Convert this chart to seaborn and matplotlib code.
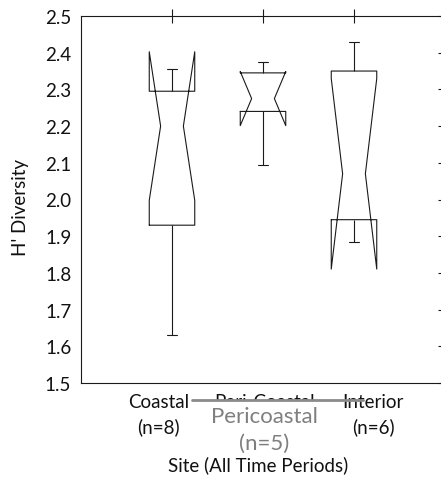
import numpy as np
import pandas as pd
import matplotlib
matplotlib.use("Agg")
import matplotlib.pyplot as plt
import seaborn as sns
from matplotlib.lines import Line2D
from matplotlib.patches import Rectangle

# ---- data ----
categories = ["Coastal", "Peri-Coastal", "Interior"]
tick_labels = ["Coastal\n(n=8)", "Peri-Coastal", "Interior\n(n=6)"]
coastal = [1.63, 1.90, 1.94, 2.17, 2.23, 2.28, 2.34, 2.355]
pericoastal = [2.095, 2.24, 2.275, 2.345, 2.375]
interior = [1.885, 1.93, 1.99, 2.15, 2.4167, 2.43]
y_ticks = [1.5, 1.6, 1.7, 1.8, 1.9, 2.0, 2.1, 2.2, 2.3, 2.4, 2.5]
y_tick_labels = ["1.5", "1.6", "1.7", "1.8", "1.9", "2.0", "2.1", "2.2", "2.3", "2.4", "2.5"]

df = pd.DataFrame({
    "site": ["Coastal"] * len(coastal) + ["Peri-Coastal"] * len(pericoastal) + ["Interior"] * len(interior),
    "value": coastal + pericoastal + interior,
})

sns.set_theme(style="white")
plt.rcParams["font.family"] = ["Lato", "DejaVu Sans"]

W, H = 441, 481
fig = plt.figure(figsize=(W / 100, H / 100), dpi=100)
ax = fig.add_axes([81 / W, 97 / H, 364 / W, 367 / H])

sns.boxplot(data=df, x="site", y="value", order=categories, ax=ax,
            width=0.5, notch=True, fill=False, color="#1a1a1a", linewidth=0.8,
            capwidths=0.1, medianprops={"linewidth": 0})

ax.set_xlim(-1, 3)
ax.set_ylim(1.5, 2.5)
ax.set_yticks(y_ticks)
ax.set_yticklabels(y_tick_labels)
# tick marks at the categories, labels slightly spread as in the reference
ax.set_xticks([0, 1, 2])
ax.set_xticklabels([])
ax.set_xticks([-0.15, 1.02, 2.21], minor=True)
ax.set_xticklabels(tick_labels, minor=True, linespacing=1.5)
ax.tick_params(axis="both", which="major", direction="inout", length=10, width=0.8,
               color="#1a1a1a", labelsize=13.5, labelcolor="#111111",
               top=True, right=True, pad=2)
ax.tick_params(axis="x", which="minor", length=0, labelsize=13.5, labelcolor="#111111",
               pad=7, top=False)
for s in ax.spines.values():
    s.set_visible(True)
    s.set_color("#1a1a1a")
    s.set_linewidth(0.8)
ax.spines["right"].set_visible(False)

ax.set_xlabel("Site (All Time Periods)", fontsize=13.5, color="#111111")
ax.xaxis.set_label_coords(0.486, -0.197)
ax.set_ylabel("H' Diversity", fontsize=13.5, color="#111111")
ax.yaxis.set_label_coords(-0.143, 0.48)

# overlay annotation as in the reference
fig.add_artist(Rectangle((205 / W, 1 - 422 / H), 118 / W, 21 / H, transform=fig.transFigure,
                         facecolor="white", edgecolor="none"))
fig.add_artist(Line2D([192 / W, 363 / W], [1 - 401 / H, 1 - 401 / H], transform=fig.transFigure,
                      color="#8a8a8a", linewidth=2))
fig.text(264 / W, 1 - 407 / H, "Pericoastal\n(n=5)", ha="center", va="top",
         fontsize=16, color="#7f7f7f", linespacing=1.4)

fig.savefig("out.png", dpi=100)
